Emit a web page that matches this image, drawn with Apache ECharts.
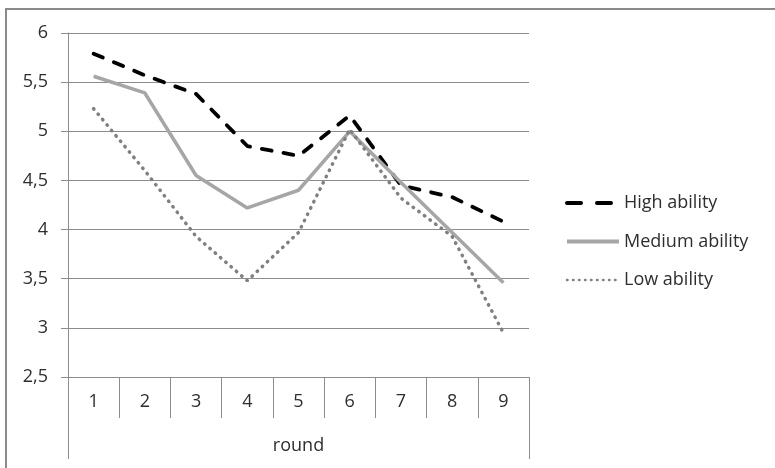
<!DOCTYPE html>
<html>
<head>
<meta charset="utf-8">
<script src="https://cdn.jsdelivr.net/npm/echarts@6/dist/echarts.min.js"></script>
<style>
html,body{margin:0;padding:0;background:#fff;}
#chart{width:775px;height:468px;}
</style>
</head>
<body>
<div id="chart"></div>
<script>
const categories = ['1','2','3','4','5','6','7','8','9'];
const axisTitle = 'round';
const highAbility = [5.79, 5.57, 5.38, 4.85, 4.75, 5.16, 4.45, 4.33, 4.08];
const mediumAbility = [5.56, 5.39, 4.55, 4.22, 4.40, 5.00, 4.48, 3.97, 3.46];
const lowAbility = [5.23, 4.60, 3.93, 3.48, 3.97, 5.02, 4.32, 3.93, 2.95];
const seriesNames = ['High ability', 'Medium ability', 'Low ability'];

const FONT = 'Open Sans';
const TXT = '#2e2e2e';
const GRID = '#8c8c8c';

const chart = echarts.init(document.getElementById('chart'), null, {renderer: 'canvas'});
chart.setOption({
  animation: false,
  backgroundColor: '#fff',
  textStyle: {fontFamily: FONT},
  graphic: [{
    type: 'rect',
    shape: {x: 6, y: 9, width: 800, height: 500},
    style: {fill: 'none', stroke: '#8a8a8a', lineWidth: 2},
    silent: true
  }],
  grid: {left: 68, right: 246, top: 33, bottom: 91, containLabel: false},
  legend: {
    orient: 'vertical',
    left: 560,
    top: 189,
    itemWidth: 52,
    itemHeight: 16,
    itemGap: 20.5,
    data: [
      {name: seriesNames[0], lineStyle: {color: '#000', width: 4, type: [14, 16], cap: 'round'}},
      {name: seriesNames[1], lineStyle: {color: '#a6a6a6', width: 4}},
      {name: seriesNames[2], lineStyle: {color: '#808080', width: 2.5, type: [0.5, 5.5], cap: 'round'}}
    ],
    itemStyle: {opacity: 0},
    textStyle: {fontFamily: FONT, fontSize: 18, color: TXT, lineHeight: 16}
  },
  xAxis: [{
    type: 'category',
    data: categories,
    boundaryGap: true,
    axisLine: {show: true, lineStyle: {color: GRID, width: 1}},
    axisTick: {show: true, length: 41, lineStyle: {color: GRID, width: 1}},
    axisLabel: {fontFamily: FONT, fontSize: 18, color: TXT, margin: 16},
    splitLine: {show: false}
  }, {
    type: 'category',
    data: [axisTitle],
    position: 'bottom',
    offset: 41,
    boundaryGap: true,
    axisLine: {show: false},
    axisTick: {show: true, length: 41, lineStyle: {color: GRID, width: 1}},
    axisLabel: {fontFamily: FONT, fontSize: 18, color: TXT, margin: 19},
    splitLine: {show: false}
  }],
  yAxis: {
    type: 'value',
    min: 2.5,
    max: 6,
    interval: 0.5,
    axisLine: {show: true, lineStyle: {color: GRID, width: 1}},
    axisTick: {show: true, length: 7, lineStyle: {color: GRID, width: 1}},
    axisLabel: {fontFamily: FONT, fontSize: 18, color: TXT, margin: 20,
      formatter: v => String(v).replace('.', ',')},
    splitLine: {show: true, lineStyle: {color: GRID, width: 1}}
  },
  series: [{
    name: seriesNames[0],
    type: 'line',
    data: highAbility,
    symbol: 'none',
    color: '#000',
    lineStyle: {color: '#000', width: 3.8, type: [10, 12], cap: 'round'}
  }, {
    name: seriesNames[1],
    type: 'line',
    data: mediumAbility,
    symbol: 'none',
    color: '#a6a6a6',
    lineStyle: {color: '#a6a6a6', width: 3.5}
  }, {
    name: seriesNames[2],
    type: 'line',
    data: lowAbility,
    symbol: 'none',
    color: '#808080',
    lineStyle: {color: '#808080', width: 3.5, type: [0.5, 6.5], cap: 'round'}
  }]
});
</script>
</body>
</html>
